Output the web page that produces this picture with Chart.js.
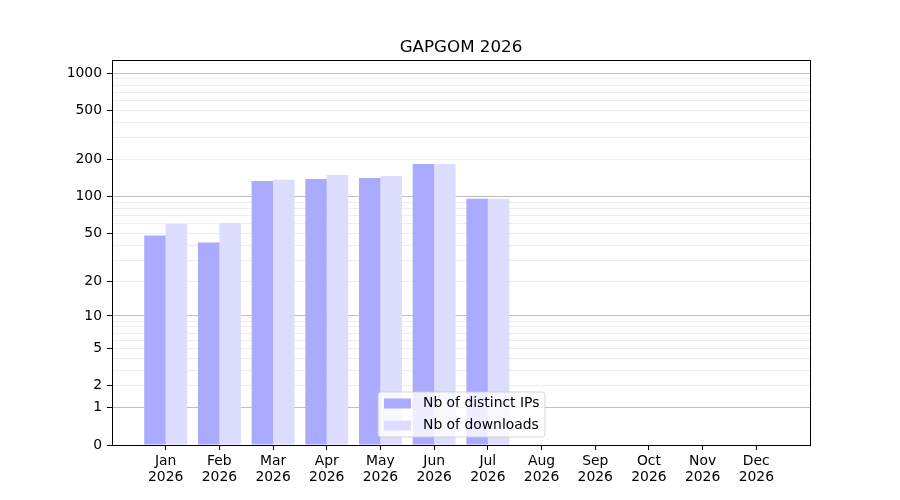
<!DOCTYPE html>
<html>
<head>
<meta charset="utf-8">
<script src="https://cdn.jsdelivr.net/npm/chart.js@4"></script>
<style>
html,body{margin:0;padding:0;background:#fff;}
#wrap{width:900px;height:500px;}
</style>
</head>
<body>
<div id="wrap"><canvas id="c" width="900" height="500"></canvas></div>
<script>
const months = ['Jan','Feb','Mar','Apr','May','Jun','Jul','Aug','Sep','Oct','Nov','Dec'];
const year = '2026';
const distinctIPs = [48, 42, 134, 139, 142, 184, 96];
const downloads = [60, 61, 137, 150, 147, 184, 96];
const yLabelTicks = [0, 1, 2, 5, 10, 20, 50, 100, 200, 500, 1000];
const yMajorGrid = [1, 10, 100, 1000];
const yMinorGrid = [3, 4, 6, 7, 8, 9, 30, 40, 60, 70, 80, 90, 300, 400, 600, 700, 800, 900];
const yMax = 1279;
const chartTitle = 'GAPGOM 2026';
const seriesNames = ['Nb of distinct IPs', 'Nb of downloads'];
const seriesColors = ['#aaaaff', '#ddddff'];

const FONT = "'DejaVu Sans', sans-serif";
const tf = v => Math.log10(1 + v);

class Log1pScale extends Chart.Scale {
  static id = 'log1p';
  static defaults = {};
  parse(raw) { return raw == null ? null : +raw; }
  determineDataLimits() {
    this.min = this.options.min != null ? this.options.min : 0;
    this.max = this.options.max != null ? this.options.max : this.getMinMax(true).max;
  }
  buildTicks() {
    const all = yLabelTicks.concat(yMinorGrid).sort((a, b) => a - b);
    return all.map(v => ({ value: v }));
  }
  configure() {
    super.configure();
    this._s = tf(this.min);
    this._r = tf(this.max) - this._s;
  }
  getPixelForValue(v) {
    return this.getPixelForDecimal((tf(v) - this._s) / this._r);
  }
  getValueForPixel(p) {
    return Math.pow(10, this.getDecimalForPixel(p) * this._r + this._s) - 1;
  }
  getLabelForValue(v) { return String(v); }
}
Chart.register(Log1pScale);

const decorPlugin = {
  id: 'decor',
  afterDraw(chart) {
    const ctx = chart.ctx;
    const a = chart.chartArea;
    ctx.save();
    // frame
    ctx.strokeStyle = '#000';
    ctx.lineWidth = 1;
    ctx.strokeRect(Math.round(a.left) + 0.5, Math.round(a.top) + 0.5, Math.round(a.right - a.left), Math.round(a.bottom - a.top));
    // title
    ctx.fillStyle = '#000';
    ctx.font = '16.7px ' + FONT;
    ctx.textAlign = 'center';
    ctx.textBaseline = 'alphabetic';
    ctx.fillText(chartTitle, (a.left + a.right) / 2, 52);
    // legend
    const fs = 13.9;
    ctx.font = fs + 'px ' + FONT;
    const w = 167, h = 45;
    const lx = (a.left + a.right) / 2 - w / 2 + 0.5;
    const ly = a.bottom - 8 - h;
    const r = 3;
    ctx.beginPath();
    ctx.moveTo(lx + r, ly);
    ctx.lineTo(lx + w - r, ly);
    ctx.quadraticCurveTo(lx + w, ly, lx + w, ly + r);
    ctx.lineTo(lx + w, ly + h - r);
    ctx.quadraticCurveTo(lx + w, ly + h, lx + w - r, ly + h);
    ctx.lineTo(lx + r, ly + h);
    ctx.quadraticCurveTo(lx, ly + h, lx, ly + h - r);
    ctx.lineTo(lx, ly + r);
    ctx.quadraticCurveTo(lx, ly, lx + r, ly);
    ctx.closePath();
    ctx.fillStyle = 'rgba(255,255,255,0.8)';
    ctx.fill();
    ctx.strokeStyle = 'rgba(204,204,204,0.8)';
    ctx.lineWidth = 1;
    ctx.stroke();
    chart.data.datasets.forEach((ds, i) => {
      const rowY = ly + 11.5 + i * 22;
      ctx.fillStyle = ds.backgroundColor;
      ctx.fillRect(lx + 6, rowY - 5, 27, 10);
      ctx.fillStyle = '#000';
      ctx.textAlign = 'left';
      ctx.textBaseline = 'middle';
      ctx.fillText(ds.label, lx + 45, rowY);
    });
    ctx.restore();
  }
};

new Chart(document.getElementById('c'), {
  type: 'bar',
  data: {
    datasets: [
      { label: seriesNames[0], data: distinctIPs.map((v, i) => ({ x: i, y: v })), backgroundColor: seriesColors[0], borderWidth: 0 },
      { label: seriesNames[1], data: downloads.map((v, i) => ({ x: i, y: v })), backgroundColor: seriesColors[1], borderWidth: 0 }
    ]
  },
  options: {
    responsive: false,
    animation: false,
    devicePixelRatio: 1,
    layout: { padding: { top: 60, right: 90, bottom: 0, left: 0 } },
    datasets: { bar: { categoryPercentage: 0.8, barPercentage: 1.0 } },
    plugins: { legend: { display: false }, title: { display: false }, tooltip: { enabled: false } },
    scales: {
      x: {
        type: 'linear',
        min: -1,
        max: 12,
        offset: false,
        afterBuildTicks: ax => { ax.ticks = months.map((m, i) => ({ value: i })); },
        afterFit: ax => { ax.height = 55; },
        grid: { display: true, offset: false, drawOnChartArea: false, drawTicks: true, tickLength: 5, tickColor: '#000', tickWidth: 1 },
        border: { display: false },
        ticks: {
          autoSkip: false,
          maxRotation: 0,
          padding: 4,
          color: '#000',
          font: { family: FONT, size: 13.9, lineHeight: 1.12 },
          callback: v => (Number.isInteger(v) && months[v] ? [months[v], year] : '')
        }
      },
      y: {
        type: 'log1p',
        min: 0,
        max: yMax,
        z: 1,
        afterFit: ax => { ax.width = 112; },
        border: { display: false },
        grid: {
          drawTicks: true,
          tickLength: 5,
          lineWidth: 1,
          color: c => {
            const v = c.tick ? c.tick.value : null;
            if (v === 0) return 'rgba(0,0,0,0)';
            return yMajorGrid.includes(v) ? 'rgba(0,0,0,0.25)' : 'rgba(0,0,0,0.07)';
          },
          tickColor: c => (c.tick && yLabelTicks.includes(c.tick.value) ? '#000' : 'rgba(0,0,0,0)')
        },
        ticks: {
          autoSkip: false,
          padding: 5,
          color: '#000',
          font: { family: FONT, size: 13.9 },
          callback: v => (yLabelTicks.includes(v) ? String(v) : '')
        }
      }
    }
  },
  plugins: [decorPlugin]
});
</script>
</body>
</html>
